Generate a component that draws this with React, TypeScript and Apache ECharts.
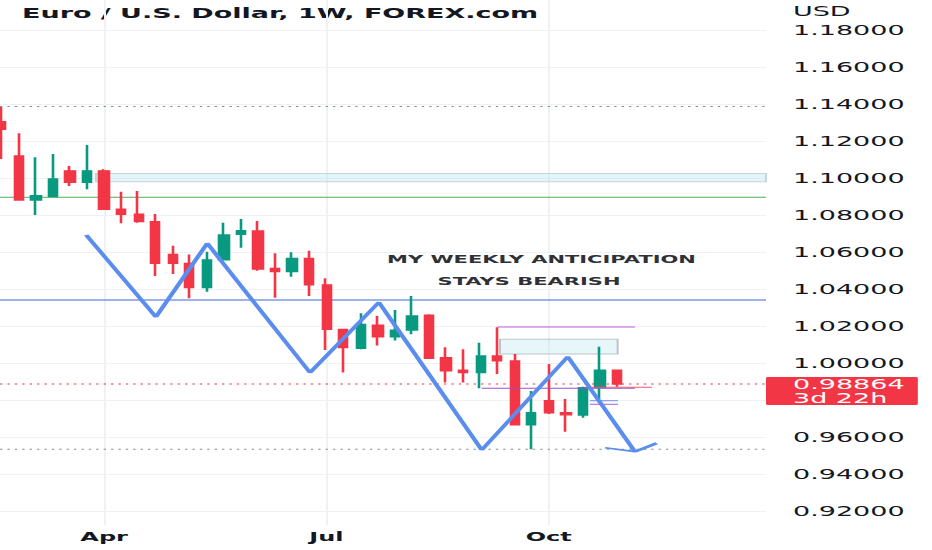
import React, { useEffect, useRef } from "react";
import * as echarts from "echarts";

// Weekly EUR/USD candles (index 0 = week of 2022-02-21)
const opens = [1.1304, 1.1119, 1.0881, 1.0899, 1.1039, 1.0977, 1.1039, 1.0831, 1.0804, 1.0764, 1.0587, 1.0539, 1.0407, 1.0557, 1.0696, 1.0714, 1.0512, 1.0494, 1.0566, 1.0422, 1.0182, 1.0079, 1.0205, 1.0142, 1.0178, 1.0258, 1.0029, 0.9962, 0.9948, 1.0038, 1.0011, 0.9665, 0.9796, 0.9731, 0.9719, 0.9867, 0.9962];
const closes = [1.1263, 1.0881, 1.0904, 1.0995, 1.0977, 1.1039, 1.0831, 1.0804, 1.0764, 1.0539, 1.0539, 1.0407, 1.0557, 1.0692, 1.0715, 1.0508, 1.0494, 1.0566, 1.0422, 1.0182, 1.0083, 1.0209, 1.0142, 1.0178, 1.0254, 1.0025, 0.9958, 0.9948, 1.0038, 1.0011, 0.9665, 0.9731, 0.9731, 0.972, 0.9867, 0.9962, 0.98864];
const lows = [1.1103, 1.0878, 1.08, 1.0896, 1.0957, 1.0939, 1.0829, 1.0755, 1.0758, 1.047, 1.0481, 1.035, 1.0385, 1.0557, 1.0623, 1.0499, 1.0353, 1.0466, 1.0362, 1.007, 0.9948, 1.0074, 1.0094, 1.0121, 1.0155, 1.0022, 0.9894, 0.9894, 0.9863, 0.9941, 0.9663, 0.9534, 0.9724, 0.9629, 0.9704, 0.9804, 0.9872];
const highs = [1.1384, 1.1242, 1.1112, 1.113, 1.1065, 1.1178, 1.1047, 1.0926, 1.093, 1.0805, 1.0634, 1.0587, 1.0602, 1.0758, 1.0778, 1.0768, 1.0593, 1.0598, 1.0607, 1.0458, 1.0185, 1.0269, 1.0254, 1.0286, 1.0362, 1.0263, 1.0085, 1.0074, 1.011, 1.0193, 1.0049, 0.9849, 0.9995, 0.9805, 0.9872, 1.0088, 0.9965];

const xTickIdx = [6, 19, 32];
const xTickLabels = ["Apr", "Jul", "Oct"];
const yTicks = [0.92, 0.94, 0.96, 0.98, 1.0, 1.02, 1.04, 1.06, 1.08, 1.1, 1.12, 1.14, 1.16, 1.18];

const timeLeft = "3d 22h";
const currency = "USD";
const title = "Euro / U.S. Dollar, 1W, FOREX.com";
const noteLines = ["MY WEEKLY ANTICIPATION", "STAYS BEARISH"];

// Drawings (x = week index, y = price)
const X_MIN = -0.09;
const X_MAX = 44.706;
const dottedLevels = [1.1387, 0.9534];
const greenLevel = 1.0896;
const blueLevel = 1.034;
const zoneUpper: number[][] = [[5.52, 1.1025], [44.7, 1.098]];
const zoneLower: number[][] = [[29.15, 1.0128], [36.03, 1.0049]];
const purpleTop: number[][] = [[29.0, 1.0195], [37.04, 1.0195]];
const purpleLow: number[][] = [[28.08, 0.9863], [37.04, 0.9863]];
const redShort: number[][] = [[34.12, 0.98686], [38.04, 0.98686]];
const blueSmall: number[][] = [[34.41, 0.9796], [36.05, 0.9796]];
const purpleSmall: number[][] = [[34.41, 0.9777], [36.05, 0.9777]];
const zigzag: number[][] = [[4.95, 1.0692], [9.03, 1.0249], [12.03, 1.0647], [18.04, 0.9948], [22.07, 1.0328], [28.08, 0.953], [33.11, 1.0034], [37.04, 0.9521], [38.31, 0.9566]];
const arrowTail: number[][] = [[35.29, 0.9542], [37.04, 0.9521]];

const FONT = "DejaVu Sans";

function seg(data: number[][], color: string, width: number, z = 5, type: any = "solid") {
  return {
    type: "line",
    data,
    symbol: "none",
    silent: true,
    z,
    lineStyle: { color, width, type },
  };
}

function level(v: number) {
  return [[X_MIN, v], [X_MAX, v]];
}

export default function App() {
  const ref = useRef<HTMLDivElement>(null);
  useEffect(() => {
    const chart = echarts.init(ref.current!, null, { renderer: "svg" });
    const candles = opens.map((o, i) => [i, o, closes[i], lows[i], highs[i]]);
    const last = closes[closes.length - 1];
    // the tick label hidden behind the last-price box (as in the reference)
    const labelTicks = yTicks.filter((t) => Math.abs(t - last) > 0.009);
    const priceLine: any = seg(level(last), "#f23645", 1, 6, [1.2, 2.5]);
    priceLine.endLabel = {
      show: true,
      distance: 0,
      formatter: () => `${last.toFixed(5)}\n${timeLeft}`,
      color: "#ffffff",
      backgroundColor: "#f23645",
      fontFamily: FONT,
      fontSize: 13.5,
      lineHeight: 14,
      align: "left",
      verticalAlign: "middle",
      padding: [0, 6.6, 0, 13.5],
      offset: [0, 7],
      borderRadius: 1,
    };
    const option: any = {
      animation: false,
      backgroundColor: "#ffffff",
      grid: { left: 0, right: 83, top: 0, bottom: 25 },
      xAxis: {
        type: "value",
        min: X_MIN,
        max: X_MAX,
        axisLine: { show: false },
        axisTick: { show: false, customValues: xTickIdx },
        splitLine: { show: true, lineStyle: { color: "#eef1f5", width: 1 } },
        axisLabel: {
          customValues: xTickIdx,
          formatter: (v: number) => xTickLabels[xTickIdx.indexOf(Math.round(v))] || "",
          fontFamily: FONT,
          fontWeight: "bold",
          fontSize: 12,
          color: "#131722",
          margin: 6,
        },
      },
      yAxis: {
        type: "value",
        position: "right",
        min: 0.91243,
        max: 1.19622,
        axisLine: { show: false },
        axisTick: { show: false, customValues: yTicks },
        splitLine: { show: true, lineStyle: { color: "#eef1f5", width: 1 } },
        axisLabel: {
          customValues: labelTicks,
          formatter: (v: number) => v.toFixed(5),
          fontFamily: FONT,
          fontSize: 13.5,
          color: "#131722",
          margin: 13.5,
        },
      },
      graphic: [
        {
          type: "text",
          left: 11,
          top: 6,
          style: { text: title, font: `bold 13.5px "${FONT}"`, fill: "#131722" },
        },
        {
          type: "text",
          x: 396.5,
          y: 11,
          style: { text: currency, font: `13.5px "${FONT}"`, fill: "#131722", verticalAlign: "middle" },
        },
        {
          type: "text",
          x: 270.75,
          y: 260,
          z: 10,
          style: { text: noteLines[0], font: `bold 10.5px "${FONT}"`, fill: "#2f3136", align: "center", verticalAlign: "middle" },
        },
        {
          type: "text",
          x: 264.5,
          y: 282,
          z: 10,
          style: { text: noteLines[1], font: `bold 10.5px "${FONT}"`, fill: "#2f3136", align: "center", verticalAlign: "middle" },
        },
      ],
      series: [
        {
          type: "candlestick",
          name: "EURUSD",
          data: candles,
          barWidth: 4.8,
          z: 3,
          itemStyle: {
            color: "#089981",
            color0: "#f23645",
            borderColor: "#089981",
            borderColor0: "#f23645",
            borderWidth: 1.3,
          },
          markArea: {
            silent: true,
            data: [
              [
                { coord: zoneUpper[0], itemStyle: { color: "rgba(190,232,240,0.45)", borderColor: "#c6d3d7", borderWidth: 1 } },
                { coord: zoneUpper[1] },
              ],
              [
                { coord: zoneLower[0], itemStyle: { color: "rgba(200,236,242,0.45)", borderColor: "#bcc6c9", borderWidth: 1 } },
                { coord: zoneLower[1] },
              ],
            ],
          },
        },
        seg(level(dottedLevels[0]), "#8a8d96", 1, 2, [1.2, 2.5]),
        seg(level(dottedLevels[1]), "#8a8d96", 1, 2, [1.2, 2.5]),
        seg(level(greenLevel), "#4caf50", 1, 2),
        seg(level(blueLevel), "#3d67dc", 1, 2),
        priceLine,
        seg(purpleTop, "#c45ad8", 1),
        seg(purpleLow, "#9b52c9", 1),
        seg(redShort, "#f0557a", 1),
        seg(blueSmall, "#6b8df2", 1),
        seg(purpleSmall, "#a45bd2", 1),
        seg(zigzag, "#5b8def", 2.4, 8),
        seg(arrowTail, "#5b8def", 1.6, 8),
      ],
    };
    chart.setOption(option);
    return () => chart.dispose();
  }, []);
  return (
    <div style={{ position: "fixed", left: 0, top: 0, width: 932, height: 550, overflow: "hidden", background: "#fff" }}>
      <div ref={ref} style={{ width: 466, height: 550, transform: "scaleX(2)", transformOrigin: "0 0" }} />
    </div>
  );
}
